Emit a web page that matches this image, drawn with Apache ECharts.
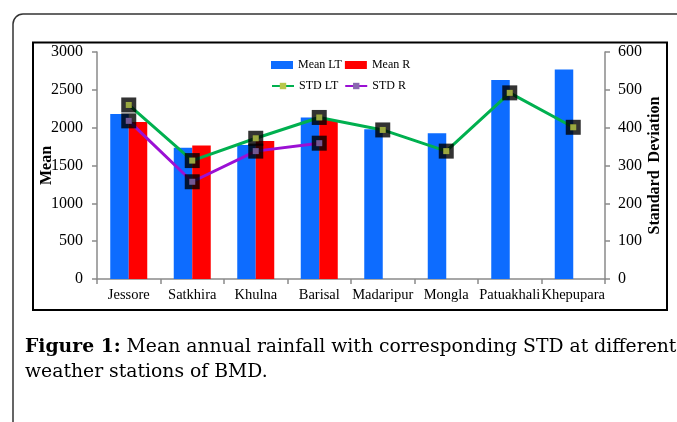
<!DOCTYPE html>
<html>
<head>
<meta charset="utf-8">
<script src="https://cdn.jsdelivr.net/npm/echarts@6/dist/echarts.min.js"></script>
<style>
html,body{margin:0;padding:0;background:#fff;}
#c{width:677px;height:422px;}
</style>
</head>
<body>
<div id="c"></div>
<script>
var categories = ['Jessore','Satkhira','Khulna','Barisal','Madaripur','Mongla','Patuakhali','Khepupara'];
var meanLT = [2180, 1735, 1770, 2135, 1980, 1925, 2630, 2770];
var meanR = [2075, 1765, 1825, 2100, null, null, null, null];
var stdLT = [460, 313, 372, 427, 394, 338, 492, 401];
var stdR = [418, 257, 338, 359, null, null, null, null];
var meanTicks = [0, 500, 1000, 1500, 2000, 2500, 3000];
var stdTicks = [0, 100, 200, 300, 400, 500, 600];

var chart = echarts.init(document.getElementById('c'), null, {renderer: 'canvas'});
var serif = 'Liberation Serif';
var axisGrey = '#8a8a8a';
var blue = '#0d6cff', red = '#ff0000', green = '#00b04f', purple = '#9b10d4';

function blackBoxes(name, data) {
  return {
    name: name + ' box', type: 'scatter', yAxisIndex: 1, data: data,
    symbol: 'rect', symbolSize: 15, itemStyle: {color: '#000'}, z: 3,
    silent: true, legendHoverLink: false
  };
}
function centers(name, data, c) {
  return {
    name: name + ' dot', type: 'scatter', yAxisIndex: 1, data: data,
    symbol: 'rect', symbolSize: 6, itemStyle: {color: c}, z: 4, silent: true
  };
}
function plain(v) { return String(v); }

chart.setOption({
  animation: false,
  grid: {left: 97, right: 72, top: 52, bottom: 143},
  legend: [
    {data: ['Mean LT', 'Mean R'], left: 266, top: 54, itemWidth: 22, itemHeight: 8, itemGap: 3,
     icon: 'rect', textStyle: {fontFamily: serif, fontSize: 12, color: '#000'}},
    {data: ['STD LT', 'STD R'], left: 266, top: 75, itemWidth: 22, itemHeight: 8, itemGap: 6,
     textStyle: {fontFamily: serif, fontSize: 12, color: '#000'}}
  ],
  xAxis: {
    type: 'category', data: categories, boundaryGap: true,
    axisLine: {lineStyle: {color: axisGrey, width: 1.5}},
    axisTick: {show: true, length: 5, lineStyle: {color: axisGrey, width: 1.5}},
    axisLabel: {fontFamily: serif, fontSize: 14.5, color: '#000', margin: 9, interval: 0}
  },
  yAxis: [
    {type: 'value', min: meanTicks[0], max: meanTicks[meanTicks.length - 1], interval: 500,
     name: 'Mean', nameLocation: 'middle', nameRotate: 90, nameGap: 42, nameMoveOverlap: false,
     nameTextStyle: {fontFamily: serif, fontSize: 16, fontWeight: 'bold', color: '#000'},
     axisLine: {show: true, lineStyle: {color: axisGrey, width: 1.5}},
     axisTick: {show: true, length: 5, lineStyle: {color: axisGrey, width: 1.5}},
     splitLine: {show: false},
     axisLabel: {fontFamily: serif, fontSize: 16, color: '#000', margin: 14, formatter: plain}},
    {type: 'value', min: stdTicks[0], max: stdTicks[stdTicks.length - 1], interval: 100, position: 'right',
     name: 'Standard  Deviation', nameLocation: 'middle', nameRotate: 90, nameGap: 42, nameMoveOverlap: false,
     nameTextStyle: {fontFamily: serif, fontSize: 16, fontWeight: 'bold', color: '#000'},
     axisLine: {show: true, lineStyle: {color: axisGrey, width: 1.5}},
     axisTick: {show: true, length: 5, lineStyle: {color: axisGrey, width: 1.5}},
     splitLine: {show: false},
     axisLabel: {fontFamily: serif, fontSize: 16, color: '#000', margin: 13, formatter: plain}}
  ],
  series: [
    {name: 'Mean LT', type: 'bar', data: meanLT, barWidth: 18.5, barGap: '0%', itemStyle: {color: blue}, z: 1},
    {name: 'Mean R', type: 'bar', data: meanR, barWidth: 18.5, barGap: '0%', itemStyle: {color: red}, z: 1},
    {name: 'STD LT', type: 'line', yAxisIndex: 1, data: stdLT, symbol: 'rect', symbolSize: 6,
     lineStyle: {color: green, width: 3}, itemStyle: {color: '#b8c84c'}, z: 2},
    {name: 'STD R', type: 'line', yAxisIndex: 1, data: stdR, symbol: 'rect', symbolSize: 6,
     lineStyle: {color: purple, width: 3}, itemStyle: {color: '#8a68b0'}, z: 2},
    blackBoxes('STD LT', stdLT),
    blackBoxes('STD R', stdR),
    centers('STD LT', stdLT, '#b8c84c'),
    centers('STD R', stdR, '#8a68b0')
  ],
  graphic: [
    {type: 'rect', shape: {x: 13, y: 14, width: 720, height: 450, r: 10},
     style: {fill: 'none', stroke: '#333', lineWidth: 1.5}, silent: true},
    {type: 'rect', shape: {x: 33, y: 42.5, width: 634, height: 267.5},
     style: {fill: 'none', stroke: '#000', lineWidth: 2}, silent: true},
    {type: 'text', x: 25, y: 347, silent: true,
     style: {text: '{b|Figure 1:} Mean annual rainfall with corresponding STD at different',
       verticalAlign: 'middle',
       rich: {b: {fontFamily: 'DejaVu Serif', fontSize: 18.8, fontWeight: 'bold', fill: '#000'}},
       fontFamily: 'DejaVu Serif', fontSize: 18.8, fill: '#000'}},
    {type: 'text', x: 25, y: 372, silent: true,
     style: {text: 'weather stations of BMD.', verticalAlign: 'middle',
       fontFamily: 'DejaVu Serif', fontSize: 18.8, fill: '#000'}}
  ]
});
</script>
</body>
</html>
